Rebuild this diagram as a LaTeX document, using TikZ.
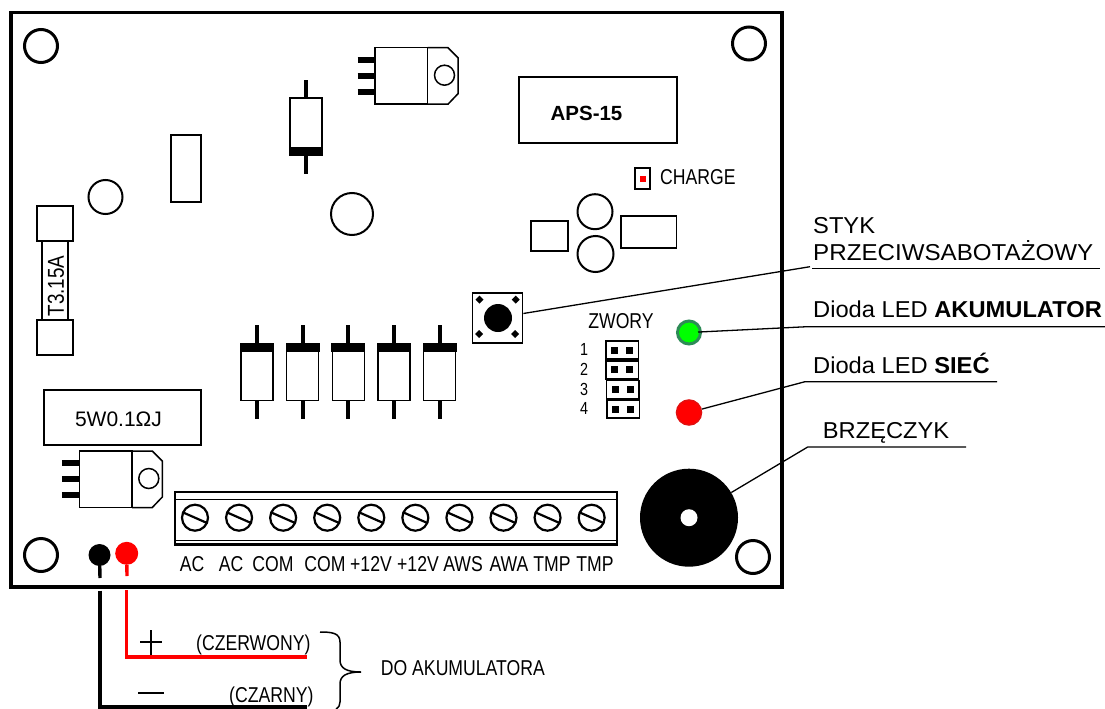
\documentclass[tikz,border=0pt]{standalone}
\usepackage{fontspec}
\setmainfont{Liberation Sans}
\newfontfamily\narrowfont[FakeStretch=0.82]{Liberation Sans}
\newfontfamily\sidefont[FakeStretch=1.03]{Liberation Sans}
\newfontfamily\widefont[FakeStretch=1.05]{Liberation Sans}
\usetikzlibrary{calc}
\tikzset{
    part/.style={draw, line width=1.6pt},
    hole/.style={draw, line width=3pt},
    leader/.style={draw, line width=1.3pt},
    wire/.style={line width=3.4pt},
    txt/.style={inner sep=0pt, anchor=base},
    narrowtxt/.style={txt, font=\narrowfont\fontsize{21.5}{21.5}\selectfont},
    sidetxt/.style={txt, anchor=base west, font=\sidefont\fontsize{23}{23}\selectfont},
    pad/.style={circle, fill, inner sep=0pt},
    regulator/.pic={
        \draw[part, line width=1.5pt] (0,0) rectangle (52.7,56.5);
        \draw[part, line width=1.5pt] (52.7,0) -- (73,0) -- (83,10) -- (83,46) -- (73,56.5) -- (52.7,56.5);
        \draw[part, line width=1.5pt] (69.5,27.5) circle (10);
        \foreach \y in {12,28,44} {
            \draw[line width=6pt] (-17.5,\y) -- (0,\y);
        }
    },
    rectifier/.pic={
        \draw[part] (-16,-28.5) rectangle (16,28.5);
        \fill (-17,-29.5) rectangle (17,-20);
        \draw[line width=4pt] (0,-47) -- (0,-28.5);
        \draw[line width=4pt] (0,28.5) -- (0,47);
    }
}
\begin{document}
\begin{tikzpicture}[x=1pt, y=-1pt]
    \useasboundingbox (0,0) rectangle (1105,709);
    \draw[line width=3.6pt] (11,12.5) rectangle (782,587);

    \draw[hole] (41,46) circle (16.5);
    \draw[hole] (749,43.5) circle (16.5);
    \draw[hole] (41,555) circle (16.5);
    \draw[hole] (753,557) circle (16.5);

    \draw[part, line width=2pt] (105.5,197) circle (17);
    \draw[part, line width=2pt] (352,214) circle (21);
    \draw[part] (171,135) rectangle (201,202);
    \pic[rotate=180] at (306,126.5) {rectifier};
    \pic at (375,47.7) {regulator};

    \draw[part] (519,77) rectangle (677,143);
    \node[txt, font=\bfseries\fontsize{20.5}{20.5}\selectfont] (apsname) at (586.5,120) {APS-15};

    \draw[part] (635,168) rectangle (650,189);
    \fill[red] (640,176) rectangle (645.5,182);
    \node[narrowtxt, anchor=base west] (chargename) at (660,184.5) {CHARGE};

    \draw[part, line width=2pt] (531,220.7) rectangle (568,250.7);
    \draw[part] (620.7,216) rectangle (676.5,248);
    \draw[part, line width=2pt] (595,211.7) circle (17.5);
    \draw[part, line width=2pt] (595.5,254) circle (18);

    \draw[part] (42,241) rectangle (68,320);
    \draw[part] (37,206) rectangle (73,241);
    \draw[part] (37,320) rectangle (73,355);
    \node[txt, anchor=center, rotate=90, font=\narrowfont\fontsize{23}{23}\selectfont] (fusename) at (56,286) {T3.15A};

    \foreach \x in {257,302.6,348.3,394,439.6} {
        \pic at (\x,372) {rectifier};
    }

    \draw[part] (44,390) rectangle (201,444.7);
    \node[txt, font=\fontsize{21}{21}\selectfont] (shuntname) at (118.5,426.5) {5W0.1ΩJ};
    \pic at (79.3,451) {regulator};

    \node[draw, line width=1.8pt, minimum size=50pt, inner sep=0pt] (tamper) at (497.5,317.7) {};
    \fill (498,318) circle (14);
    \foreach \x/\y in {479.5/299.7,515.7/299.7,479/334,515/334} {
        \fill (\x-4,\y) -- (\x,\y-4) -- (\x+4,\y) -- (\x,\y+4) -- cycle;
    }

    \node[narrowtxt] (jumpername) at (621,328) {ZWORY};
    \foreach \i/\y/\x in {1/350/0,2/369.7/0,3/389.5/0.5,4/409/1} {
        \draw[part] (606+\x,\y-9) rectangle (638.5+\x,\y+9);
        \fill (611+\x,\y-3.5) rectangle (618+\x,\y+3.5);
        \fill (626+\x,\y-3.5) rectangle (633+\x,\y+3.5);
        \node[txt, font=\narrowfont\fontsize{17.5}{17.5}\selectfont] (jumper\i) at (584,\y+5.5) {\i};
    }

    \node[circle, draw={rgb,255:red,46;green,139;blue,87}, fill={rgb,255:red,0;green,255;blue,0}, line width=3pt, minimum size=23pt, inner sep=0pt] (ledgreen) at (689,332.5) {};
    \node[circle, draw={rgb,255:red,225;green,15;blue,15}, fill=red, line width=1.5pt, minimum size=25pt, inner sep=0pt] (ledred) at (689,412.5) {};
    \node[pad, minimum size=98pt] (buzzer) at (689,517.7) {};
    \fill[white] (buzzer.center) circle (8.5);

    \draw[line width=2.4pt] (175,491.7) rectangle (616.7,544.3);
    \draw[line width=1pt] (175,499.3) -- (616.7,499.3);
    \draw[line width=1pt] (175,540) -- (616.7,540);
    \foreach \i in {0,...,9} {
        \draw[line width=2.2pt] (195+44.07*\i,517.7) circle (13);
        \draw[line width=2.2pt] (195+44.07*\i-12.5,517.7-5.5) -- (195+44.07*\i+12.5,517.7+5.5);
    }
    \foreach \i/\x/\t in {1/192/AC,2/231/AC,3/273/COM,4/325/COM,5/371/+12V,6/418/+12V,7/463/AWS,8/509/AWA,9/552/TMP,10/595/TMP} {
        \node[narrowtxt] (term\i) at (\x,571.7) {\t};
    }

    \node[pad, minimum size=22pt] (blackpad) at (99.5,555) {};
    \node[pad, fill=red, minimum size=23pt] (redpad) at (126.7,553.3) {};
    \coordinate (blackstem) at (100,578);
    \coordinate (redstem) at (127,576);
    \coordinate (blackout) at (100,590.7);
    \coordinate (redout) at (126.5,590);
    \coordinate (blackend) at (307,707);
    \coordinate (redend) at (307,657);
    \draw[wire] (blackpad) -- (blackstem);
    \draw[wire, red] (redpad) -- (redstem);
    \draw[wire] (blackout) |- (blackend);
    \draw[wire, red] (redout) |- (redend);

    \draw[line width=1.7pt] (140,642) -- (161.7,642);
    \draw[line width=1.7pt] (150.7,630) -- (150.7,655);
    \draw[line width=2.2pt] (138,693) -- (164,693);
    \node[narrowtxt, anchor=base west] (redname) at (196,650.7) {(CZERWONY)};
    \node[narrowtxt, anchor=base west] (blackname) at (229,702) {(CZARNY)};
    \node[narrowtxt, anchor=base west] (batteryname) at (380.7,675.7) {DO AKUMULATORA};
    \draw[line width=1.5pt] (320,632) .. controls (332,632) and (340,633) .. (340,642) -- (340,660) .. controls (340,668) and (346,672) .. (361,672) .. controls (346,672) and (340,676) .. (340,684) -- (340,702) .. controls (340,705) and (339,707) .. (336,709);

    \coordinate (tamperknee) at (810,266.7);
    \coordinate (tamperend) at (1100,268.3);
    \coordinate (tamperstart) at (812,268.3);
    \coordinate (greenknee) at (807,326.7);
    \coordinate (greenend) at (1105,326.7);
    \coordinate (redknee) at (805,381.7);
    \coordinate (redtail) at (997,381.7);
    \coordinate (buzzerknee) at (807.7,447);
    \coordinate (buzzerend) at (966,447);
    \draw[leader] (tamper) -- (tamperknee);
    \draw[leader] (tamperstart) -- (tamperend);
    \draw[leader, shorten <=-4pt] (ledgreen) -- (greenknee) -- (greenend);
    \draw[leader] (ledred) -- (redknee) -- (redtail);
    \draw[leader] (buzzer) -- (buzzerknee) -- (buzzerend);

    \node[sidetxt] (tampername) at (813,233) {STYK};
    \node[sidetxt, font=\widefont\fontsize{23}{23}\selectfont] (tampernametwo) at (813,260.7) {PRZECIWSABOTAŻOWY};
    \node[sidetxt] (greenname) at (813,317) {Dioda LED \textbf{AKUMULATOR}};
    \node[sidetxt] (redledname) at (813,373) {Dioda LED \textbf{SIEĆ}};
    \node[sidetxt] (buzzername) at (822.7,438) {BRZĘCZYK};
\end{tikzpicture}
\end{document}
